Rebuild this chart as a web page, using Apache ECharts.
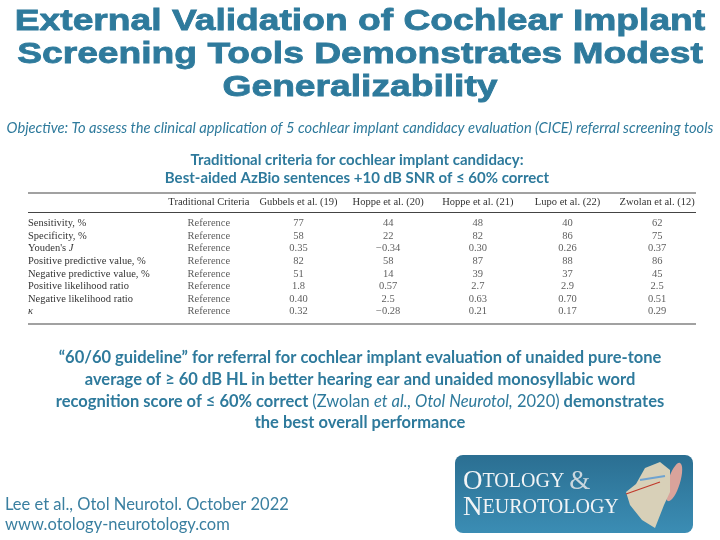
<!DOCTYPE html>
<html><head><meta charset="utf-8">
<script src="https://cdn.jsdelivr.net/npm/echarts@6/dist/echarts.min.js"></script>
<style>html,body{margin:0;padding:0;background:#fff}#c{width:720px;height:540px}</style>
</head><body><div id="c"></div>
<script>
const titleLines = ['External Validation of Cochlear Implant','Screening Tools Demonstrates Modest','Generalizability'];
const objectiveText = 'Objective: To assess the clinical application of 5 cochlear implant candidacy evaluation (CICE) referral screening tools';
const tableTitle = ['Traditional criteria for cochlear implant candidacy:','Best-aided AzBio sentences +10 dB SNR of \u2264 60% correct'];
const colHeaders = ['Traditional Criteria','Gubbels et al. (19)','Hoppe et al. (20)','Hoppe et al. (21)','Lupo et al. (22)','Zwolan et al. (12)'];
const rowLabels = ['Sensitivity, %','Specificity, %',"Youden's J",'Positive predictive value, %','Negative predictive value, %','Positive likelihood ratio','Negative likelihood ratio','\u03ba'];
const referenceText = 'Reference';
const gubbels = [77, 58, 0.35, 82, 51, 1.8, 0.40, 0.32];
const hoppe20 = [44, 22, -0.34, 58, 14, 0.57, 2.5, -0.28];
const hoppe21 = [48, 82, 0.30, 87, 39, 2.7, 0.63, 0.21];
const lupo22  = [40, 86, 0.26, 88, 37, 2.9, 0.70, 0.17];
const zwolan12 = [62, 75, 0.37, 86, 45, 2.5, 0.51, 0.29];
const conclusionLines = [
  '\u201C60/60 guideline\u201D for referral for cochlear implant evaluation of unaided pure-tone',
  'average of \u2265 60 dB HL in better hearing ear and unaided monosyllabic word',
  '{b|recognition score of \u2264 60% correct }{n|(Zwolan }{i|et al., Otol Neurotol,}{n| 2020)}{b| demonstrates}',
  'the best overall performance'
];
const footerLines = ['Lee et al., Otol Neurotol. October 2022','www.otology-neurotology.com'];

const studies = [gubbels, hoppe20, hoppe21, lupo22, zwolan12];
const fmt = v => v.toPrecision(2).replace('-', '\u2212');
const cellData = [];
rowLabels.forEach((r, i) => cellData.push([colHeaders[0], r, referenceText]));
studies.forEach((arr, s) => arr.forEach((v, i) => cellData.push([colHeaders[s + 1], rowLabels[i], v])));

const TEAL = '#2e7a9c';
const serif = '"Liberation Serif", "DejaVu Serif", serif';
const sans = 'Lato, "Open Sans", sans-serif';
const CS = 16.5;

const graphics = [];
titleLines.forEach((t, i) => graphics.push({
  type: 'text', x: 360, y: 22 + i * 33, scaleX: 1.24,
  style: { text: t, fill: TEAL, stroke: TEAL, lineWidth: 0.8, fontSize: 30, fontWeight: 'bold', fontFamily: '"Liberation Sans", Arial, sans-serif', align: 'center', verticalAlign: 'middle' }
}));
graphics.push({ type: 'text', x: 360, y: 128, style: { text: objectiveText, fill: TEAL, fontSize: 14.7, fontStyle: 'italic', fontFamily: sans, align: 'center', verticalAlign: 'middle' } });
tableTitle.forEach((t, i) => graphics.push({
  type: 'text', x: 357, y: 160 + i * 18,
  style: { text: t, fill: TEAL, fontSize: 15, fontWeight: 'bold', fontFamily: sans, align: 'center', verticalAlign: 'middle' }
}));
[193, 212.5, 324].forEach(y => graphics.push({ type: 'line', shape: { x1: 28, y1: y, x2: 696, y2: y }, style: { stroke: '#444', lineWidth: 1.2 } }));
conclusionLines.forEach((t, i) => graphics.push({
  type: 'text', x: 360, y: 358 + i * 21.7,
  style: { text: t, fill: TEAL, fontSize: CS, fontWeight: 'bold', fontFamily: sans, align: 'center', verticalAlign: 'middle',
    rich: { b: { fontSize: CS, fontWeight: 'bold', fontFamily: sans, fill: TEAL }, n: { fontSize: CS, fontWeight: 'normal', fontFamily: sans, fill: TEAL }, i: { fontSize: CS, fontWeight: 'normal', fontStyle: 'italic', fontFamily: sans, fill: TEAL } } }
}));
footerLines.forEach((t, i) => graphics.push({
  type: 'text', x: 5, y: 505 + i * 20,
  style: { text: t, fill: '#3a7fa0', fontSize: 16.5, fontFamily: sans, align: 'left', verticalAlign: 'middle' }
}));
// journal logo
graphics.push({ type: 'rect', shape: { x: 455, y: 455, width: 238, height: 78, r: 8 },
  style: { fill: { type: 'linear', x: 0, y: 0, x2: 0, y2: 1, colorStops: [{ offset: 0, color: '#2b6f92' }, { offset: 1, color: '#3b8db4' }] } } });
graphics.push({ type: 'ellipse', shape: { cx: 674, cy: 482, rx: 6, ry: 20 }, rotation: -0.3, originX: 674, originY: 482, style: { fill: '#d9a39b' } });
graphics.push({ type: 'polygon', shape: { points: [[645, 468], [660, 462], [670, 470], [670, 492], [664, 505], [655, 528], [642, 520], [630, 505], [626, 492], [636, 484]] }, style: { fill: '#d8d0b8' } });
graphics.push({ type: 'line', shape: { x1: 626, y1: 494, x2: 660, y2: 482 }, style: { stroke: '#c0392b', lineWidth: 1.2 } });
graphics.push({ type: 'line', shape: { x1: 640, y1: 480, x2: 665, y2: 476 }, style: { stroke: '#6fa3d0', lineWidth: 2 } });
graphics.push({ type: 'text', x: 463, y: 495,
  style: { text: '{o|O}{s|TOLOGY }{a|&}', fill: '#f2f4f6', align: 'left', verticalAlign: 'bottom',
    rich: { o: { fontSize: 27, fontFamily: serif, fill: '#f2f4f6' }, s: { fontSize: 20, fontFamily: serif, fill: '#f2f4f6' }, a: { fontSize: 27, fontFamily: serif, fill: '#c9d6de' } } } });
graphics.push({ type: 'text', x: 463, y: 521,
  style: { text: '{o|N}{s|EUROTOLOGY}', fill: '#f2f4f6', align: 'left', verticalAlign: 'bottom',
    rich: { o: { fontSize: 27, fontFamily: serif, fill: '#f2f4f6' }, s: { fontSize: 20, fontFamily: serif, fill: '#f2f4f6' } } } });

const chart = echarts.init(document.getElementById('c'));
chart.setOption({
  animation: false,
  backgroundColor: '#fff',
  grid: { left: 164, right: 18, top: 217, height: 101 },
  xAxis: { type: 'category', data: colHeaders, position: 'top', axisLine: { show: false }, axisTick: { show: false }, splitLine: { show: false },
    axisLabel: { interval: 0, margin: 9, color: '#333', fontSize: 10.5, fontFamily: serif } },
  yAxis: { type: 'category', data: rowLabels, inverse: true, axisLine: { show: false }, axisTick: { show: false }, splitLine: { show: false },
    axisLabel: { interval: 0, align: 'left', margin: 136, color: '#333', fontSize: 10.5, fontFamily: serif,
      formatter: v => v === "Youden's J" ? "Youden's {i|J}" : (v === '\u03ba' ? '{i|\u03ba}' : v),
      rich: { i: { fontStyle: 'italic', fontSize: 10.5, fontFamily: serif, color: '#333' } } } },
  series: [{ type: 'scatter', data: cellData, symbolSize: 0,
    label: { show: true, position: 'inside', color: '#333', fontSize: 10.5, fontFamily: serif,
      formatter: p => typeof p.value[2] === 'number' ? fmt(p.value[2]) : p.value[2] } }],
  graphic: graphics
});
</script></body></html>
